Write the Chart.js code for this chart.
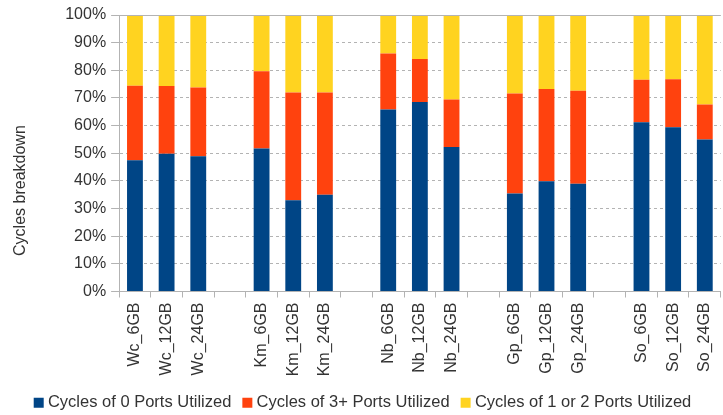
<!DOCTYPE html>
<html>
<head>
<meta charset="utf-8">
<script src="https://cdn.jsdelivr.net/npm/chart.js@4"></script>
<style>
  html, body { margin: 0; padding: 0; background: #fff; overflow: hidden; }
  #wrap { width: 729px; height: 415px; }
</style>
</head>
<body>
<div id="wrap"><canvas id="chart" width="729" height="415"></canvas></div>
<script>
// categories ("" = gap between workload groups)
const categories = [
  "Wc_6GB", "Wc_12GB", "Wc_24GB", "",
  "Km_6GB", "Km_12GB", "Km_24GB", "",
  "Nb_6GB", "Nb_12GB", "Nb_24GB", "",
  "Gp_6GB", "Gp_12GB", "Gp_24GB", "",
  "So_6GB", "So_12GB", "So_24GB"
];

// % of cycles
const zeroPorts = [47.5, 49.8, 48.9, null, 51.7, 33.0, 35.0, null, 65.8, 68.5, 52.3, null, 35.4, 39.9, 39.0, null, 61.2, 59.4, 55.0];
const threePlusPorts = [26.9, 24.5, 24.9, null, 28.0, 39.0, 37.0, null, 20.3, 15.6, 17.1, null, 36.2, 33.3, 33.6, null, 15.4, 17.4, 12.6];
const oneOrTwoPorts = [25.6, 25.7, 26.2, null, 20.3, 28.0, 28.0, null, 13.9, 15.9, 30.6, null, 28.4, 26.8, 27.4, null, 23.4, 23.2, 32.4];

const yTicks = [0, 10, 20, 30, 40, 50, 60, 70, 80, 90, 100];

const textColor = "#333";
const gridColor = "#b3b3b3";
const font = { family: "'Liberation Sans', Arial, sans-serif", size: 16 };

// solid frame line along the top of the plot
const topLine = {
  id: "topLine",
  afterDraw(chart) {
    const { ctx, chartArea } = chart;
    ctx.save();
    ctx.strokeStyle = gridColor;
    ctx.lineWidth = 1;
    ctx.beginPath();
    ctx.moveTo(chartArea.left, chartArea.top + 0.5);
    ctx.lineTo(chartArea.right, chartArea.top + 0.5);
    ctx.stroke();
    ctx.restore();
  }
};

new Chart(document.getElementById("chart"), {
  type: "bar",
  data: {
    labels: categories,
    datasets: [
      { label: "Cycles of 0 Ports Utilized", data: zeroPorts, backgroundColor: "#004586" },
      { label: "Cycles of 3+ Ports Utilized", data: threePlusPorts, backgroundColor: "#ff420e" },
      { label: "Cycles of 1 or 2 Ports Utilized", data: oneOrTwoPorts, backgroundColor: "#ffd320" }
    ]
  },
  options: {
    responsive: false,
    animation: false,
    layout: { padding: { top: 15, right: 0, bottom: -6, left: 0 } },
    datasets: { bar: { barPercentage: 0.5, categoryPercentage: 1 } },
    plugins: {
      legend: {
        position: "bottom",
        labels: {
          color: textColor,
          font: { ...font, size: 16.5 },
          usePointStyle: true,
          pointStyle: "rect",
          boxWidth: 2,
          boxHeight: 10,
          padding: 15
        }
      },
      tooltip: { enabled: false }
    },
    scales: {
      x: {
        stacked: true,
        grid: { offset: true, drawOnChartArea: false, tickLength: 6, color: gridColor },
        border: { color: gridColor },
        ticks: { color: textColor, font, minRotation: 90, maxRotation: 90, padding: 5, autoSkip: false },
        afterFit(scale) { scale.height = 88; }
      },
      y: {
        stacked: true,
        min: 0,
        max: 100,
        afterBuildTicks(scale) { scale.ticks = yTicks.map(v => ({ value: v })); },
        grid: { color: gridColor, tickLength: 8 },
        border: { color: gridColor, dash: [3, 3] },
        ticks: { color: textColor, font, padding: 5, callback: v => v + "%" },
        title: {
          display: true,
          // title sits low on the axis in the original; leading spaces lift it off the bottom
          text: "        Cycles breakdown",
          align: "start",
          color: textColor,
          font,
          padding: { top: 11, bottom: 30 }
        }
      }
    }
  },
  plugins: [topLine]
});
</script>
</body>
</html>
